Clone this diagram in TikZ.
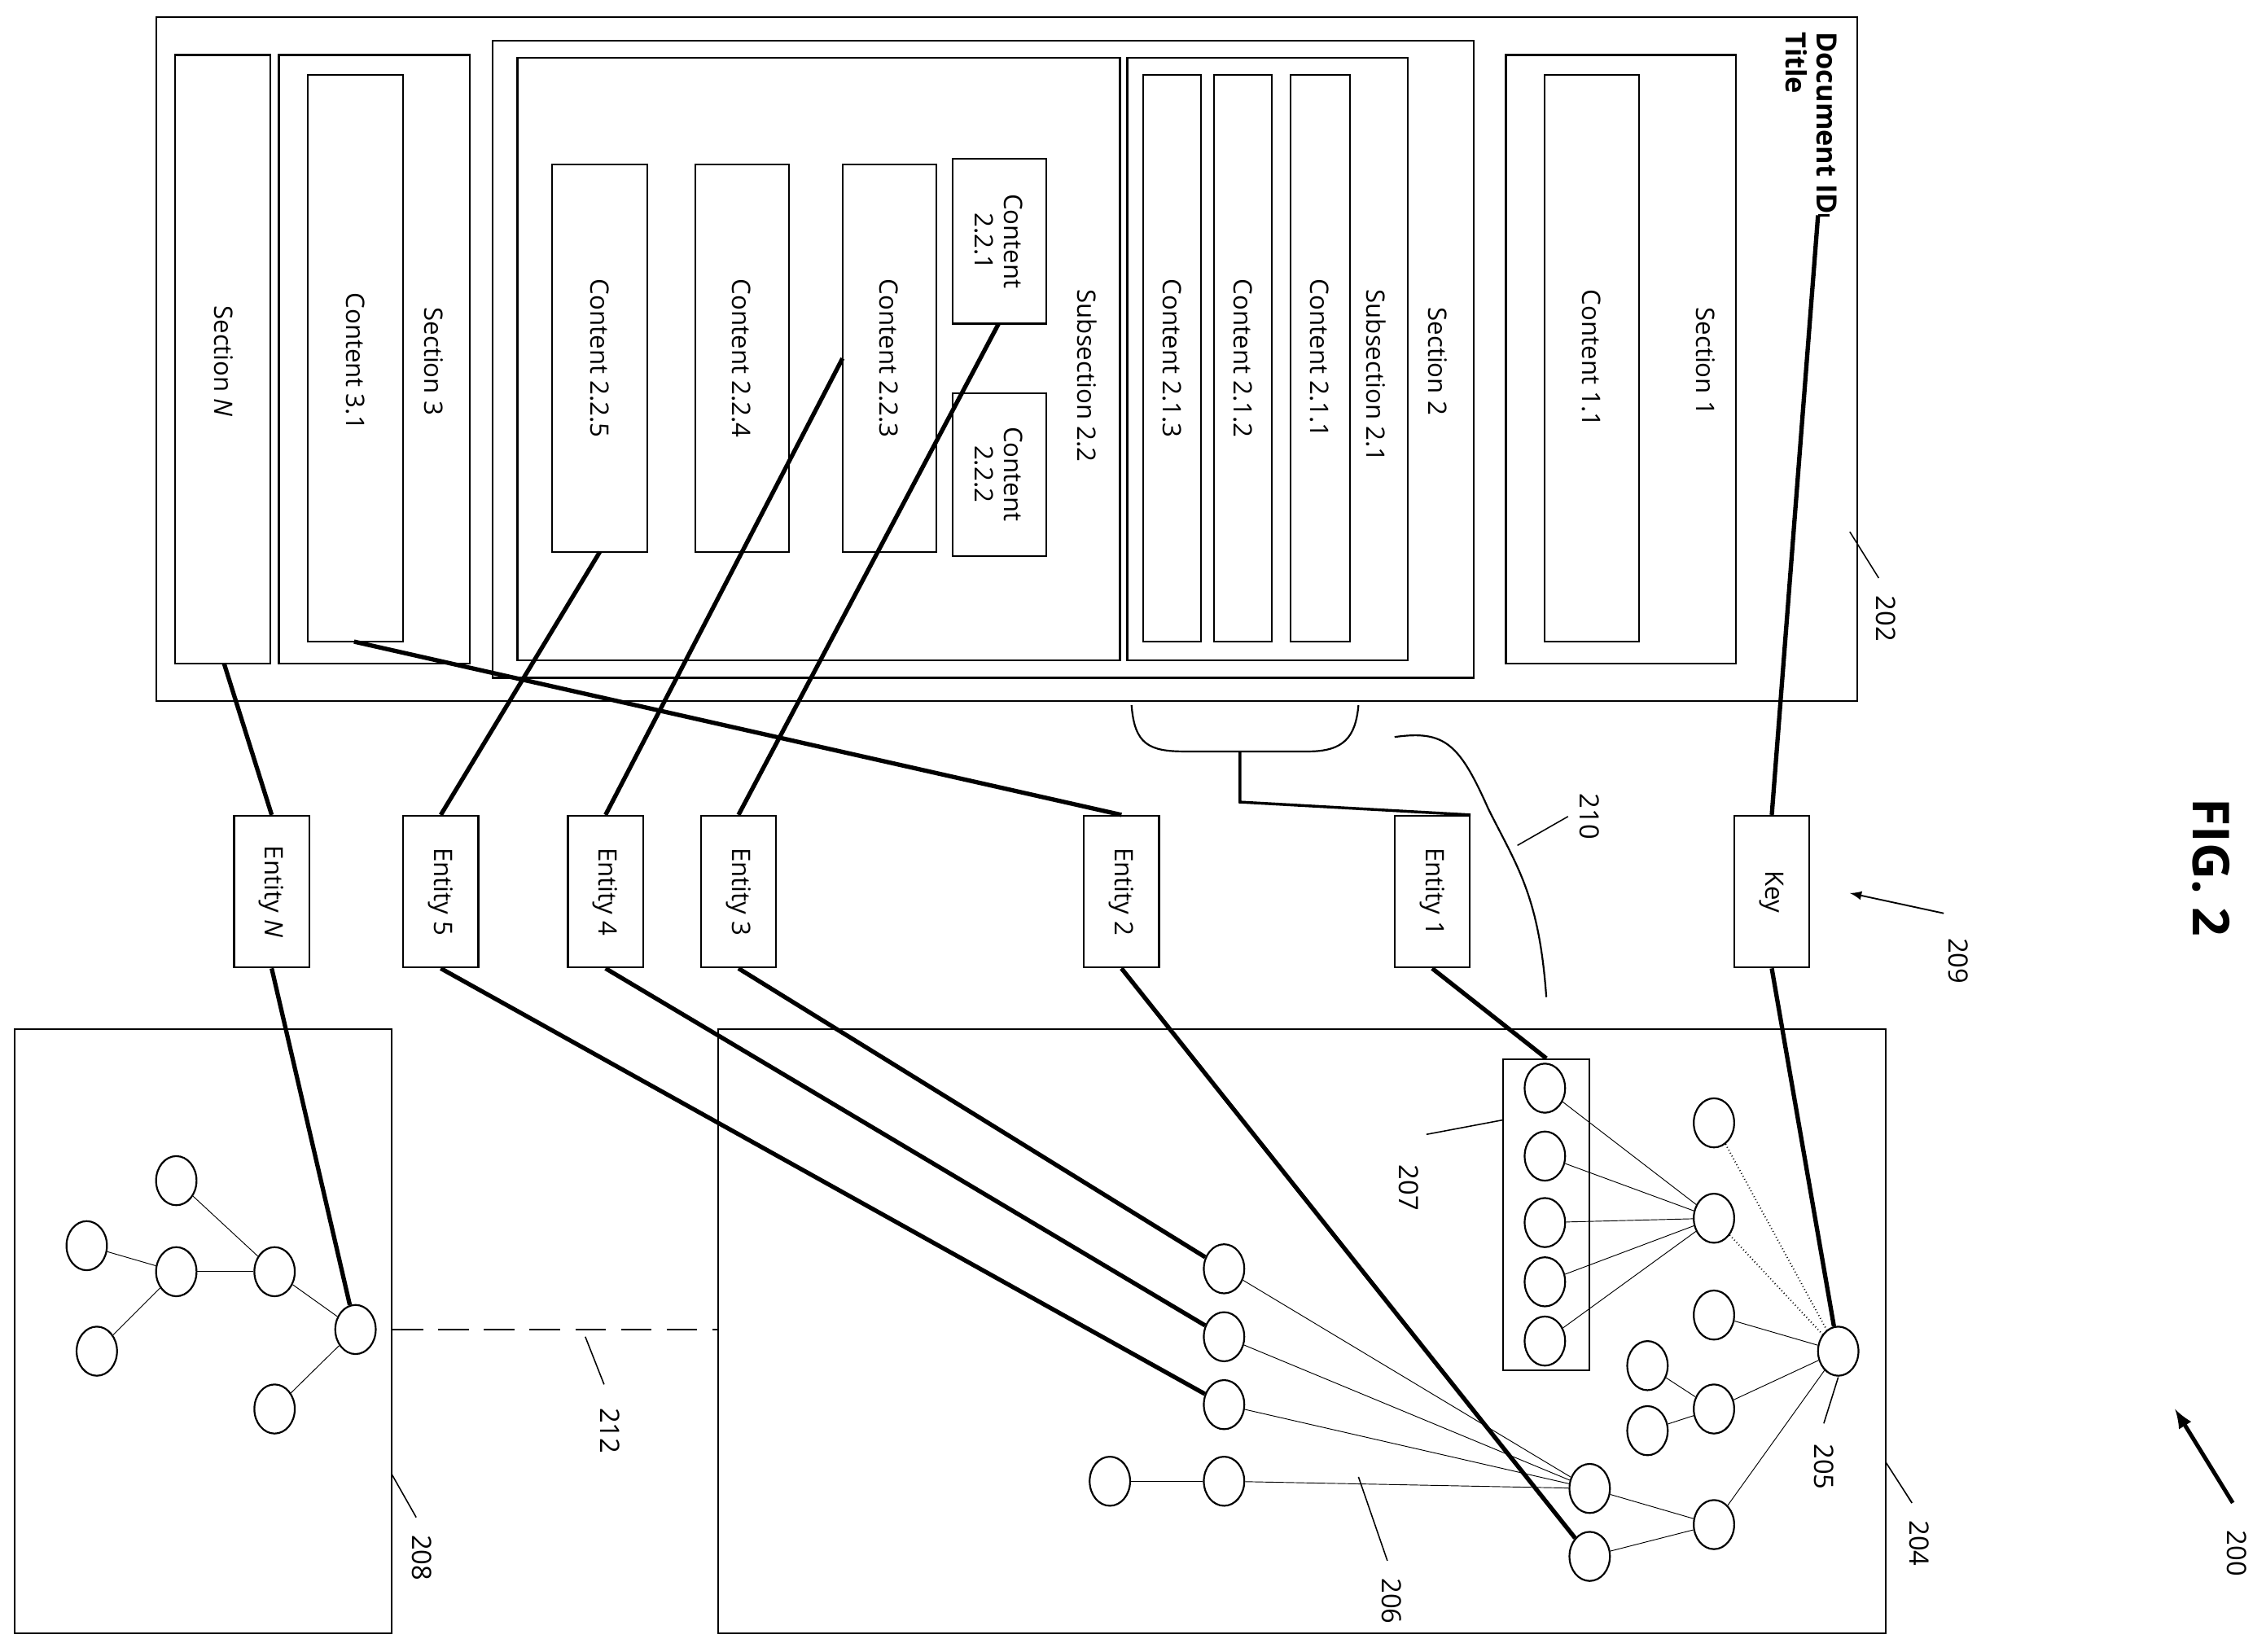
\documentclass[tikz,border=0pt]{standalone}
\usepackage{fontspec}
\setmainfont{Open Sans}
\usetikzlibrary{fit,shapes.geometric,decorations.pathreplacing}
\tikzset{
    box/.style={draw, line width=0.7pt, inner sep=0pt},
    txt/.style={rotate=-90, font=\fontsize{10}{11.5}\selectfont, align=center},
    ref/.style={rotate=-90, font=\fontsize{10.5}{12}\selectfont},
    link/.style={line width=1.7pt},
    edge/.style={line width=0.3pt},
    vert/.style={ellipse, draw, line width=0.7pt, fill=white, minimum width=0.56cm, minimum height=0.68cm, inner sep=0pt},
    entity/.style={draw, line width=0.7pt, rotate=-90, minimum width=2.1cm, minimum height=1.04cm, font=\fontsize{10}{11.5}\selectfont}
}
\begin{document}
\begin{tikzpicture}[x=0.02cm, y=-0.02cm]
\useasboundingbox (0,0) rectangle (1568,1143);
% Document 202
\node[box, fit={(108,12)(1285,485)}] (doc) {};
\node[box, fit={(121,38)(187,459)}] (secN) {};
\node[txt] at (155,250) {Section \textit{N}};
\node[box, fit={(193,38)(325,459)}] (sec3) {};
\node[box, fit={(213,52)(279,444)}] (c31) {};
\node[txt] at (246,250) {Content 3.1};
\node[txt] at (300,250) {Section 3};
\node[box, fit={(341,28)(1020,469)}] (sec2) {};
\node[txt] at (995,250) {Section 2};
\node[box, fit={(358,40)(775,457)}] (sub22) {};
\node[txt] at (752,260) {Subsection 2.2};
\node[box, fit={(382,114)(448,382)}] (c225) {};
\node[txt] at (415,248) {Content 2.2.5};
\node[box, fit={(481,114)(546,382)}] (c224) {};
\node[txt] at (513,248) {Content 2.2.4};
\node[box, fit={(583,114)(648,382)}] (c223) {};
\node[txt] at (615,248) {Content 2.2.3};
\node[box, fit={(659,110)(724,224)}] (c221) {};
\node[txt] at (691,167) {Content\\2.2.1};
\node[box, fit={(659,272)(724,385)}] (c222) {};
\node[txt] at (691,328) {Content\\2.2.2};
\node[box, fit={(780,40)(974,457)}] (sub21) {};
\node[txt] at (952,260) {Subsection 2.1};
\node[box, fit={(791,52)(831,444)}] (c213) {};
\node[txt] at (811,248) {Content 2.1.3};
\node[box, fit={(840,52)(880,444)}] (c212) {};
\node[txt] at (860,248) {Content 2.1.2};
\node[box, fit={(893,52)(934,444)}] (c211) {};
\node[txt] at (913,248) {Content 2.1.1};
\node[box, fit={(1042,38)(1201,459)}] (sec1) {};
\node[box, fit={(1069,52)(1134,444)}] (c11) {};
\node[txt] at (1101,248) {Content 1.1};
\node[txt] at (1180,250) {Section 1};
\node[txt, font=\fontsize{11}{12}\selectfont\bfseries, align=left, anchor=north west, inner sep=1pt] (title) at (1273,20) {Document ID\\Title};
\coordinate (docid) at (1258,149);
\draw[line width=0.9pt] (docid) -- (1266,149);
% Entities
\node[entity] (entN) at (188,617) {Entity \textit{N}};
\node[entity] (ent5) at (305,617) {Entity 5};
\node[entity] (ent4) at (419,617) {Entity 4};
\node[entity] (ent3) at (511,617) {Entity 3};
\node[entity] (ent2) at (776,617) {Entity 2};
\node[entity] (ent1) at (991,617) {Entity 1};
\node[entity] (key) at (1226,617) {Key};
% Boxes 204, 208
\node[box, fit={(497,712)(1305,1130)}] (kg) {};
\node[box, fit={(10,712)(271,1130)}] (sub) {};
\draw[line width=0.9pt, dash pattern=on 12pt off 6pt] (sub.east |- 0,920) -- (kg.west |- 0,920);
% graph 208
\foreach \n/\x/\y in {a/122/817, b/60/862, c/122/880, d/190/880, e/67/935, f/246/920, g/190/975}
  \node[vert] (s\n) at (\x,\y) {};
\foreach \p/\q in {b/c, c/d, a/d, c/e, d/f, g/f}
  \draw[edge] (s\p) -- (s\q);
% graph 204
\node[box, fit={(1040,733)(1100,948)}] (grp) {};
\foreach \i/\y in {1/753, 2/800, 3/846, 4/887, 5/928}
  \node[vert] (g\i) at (1069,\y) {};
\foreach \n/\x/\y in {r1/1186/777, r2/1186/843, r3/1186/910, r4/1186/975, r5/1140/945, r6/1140/990, r7/1186/1055, hub/1272/935,
  m1/847/878, m2/847/925, m3/847/972, m4/847/1025, m5/768/1025, p1/1100/1030, p2/1100/1077}
  \node[vert] (\n) at (\x,\y) {};
\foreach \i in {1,...,5}
  \draw[edge] (g\i) -- (r2);
\draw[edge, densely dotted, line width=0.6pt] (r1) -- (hub);
\draw[edge, densely dotted, line width=0.6pt] (r2) -- (hub);
\foreach \p in {r3, r4, r7}
  \draw[edge] (\p) -- (hub);
\draw[edge] (r5) -- (r4);
\draw[edge] (r6) -- (r4);
\draw[edge] (p1) -- (r7);
\draw[edge] (p2) -- (r7);
\foreach \p in {m1, m2, m3, m4}
  \draw[edge] (\p) -- (p1);
\draw[edge] (m5) -- (m4);
% links
\draw[link] (155,459) -- (entN.west);
\draw[link] (245,444) -- (ent2.west);
\draw[link] (415,382) -- (ent5.west);
\draw[link] (583,248) -- (ent4.west);
\draw[link] (691,224) -- (ent3.west);
\draw[link] (docid) -- (key.west);
\draw[link] (entN.east) -- (sf);
\draw[link] (ent5.east) -- (m3);
\draw[link] (ent4.east) -- (m2);
\draw[link] (ent3.east) -- (m1);
\draw[link] (ent2.east) -- (p2);
\draw[link] (ent1.east) -- (grp.north);
\draw[link] (key.east) -- (hub);
% brackets
\draw[line width=0.7pt] (783,488) .. controls (785,515) and (795,520) .. (820,520) -- (905,520) .. controls (930,520) and (938,510) .. (940,488);
\draw[line width=1.1pt] (858,520) -- (858,555) -- (ent1.north west);
\draw[line width=0.7pt] (965,510) .. controls (1000,505) and (1010,515) .. (1030,560) .. controls (1050,600) and (1065,620) .. (1070,690);
% reference labels
\draw[edge, line width=0.5pt] (1280,368) -- (1300,400);
\node[ref] at (1305,428) {202};
\node[ref] at (1100,565) {210};
\draw[edge, line width=0.5pt] (1050,585) -- (1085,565);
\draw[-latex, line width=0.6pt] (1345,632) -- (1280,618);
\node[ref] at (1355,665) {209};
\draw[edge, line width=0.5pt] (987,785) -- (1040,775);
\node[ref] at (975,822) {207};
\draw[edge, line width=0.5pt] (1272,953) -- (1262,985);
\node[ref] at (1262,1015) {205};
\draw[edge, line width=0.5pt] (1305,1012) -- (1323,1040);
\node[ref] at (1328,1068) {204};
\draw[edge, line width=0.5pt] (940,1022) -- (960,1080);
\node[ref] at (963,1108) {206};
\draw[edge, line width=0.5pt] (405,925) -- (418,958);
\node[ref] at (422,990) {212};
\draw[edge, line width=0.5pt] (271,1020) -- (288,1050);
\node[ref] at (292,1078) {208};
\draw[-latex, line width=1.6pt] (1545,1040) -- (1505,975);
\node[ref] at (1548,1075) {200};
\node[rotate=-90, font=\fontsize{20}{24}\selectfont\bfseries] at (1530,600) {FIG. 2};
\end{tikzpicture}
\end{document}
